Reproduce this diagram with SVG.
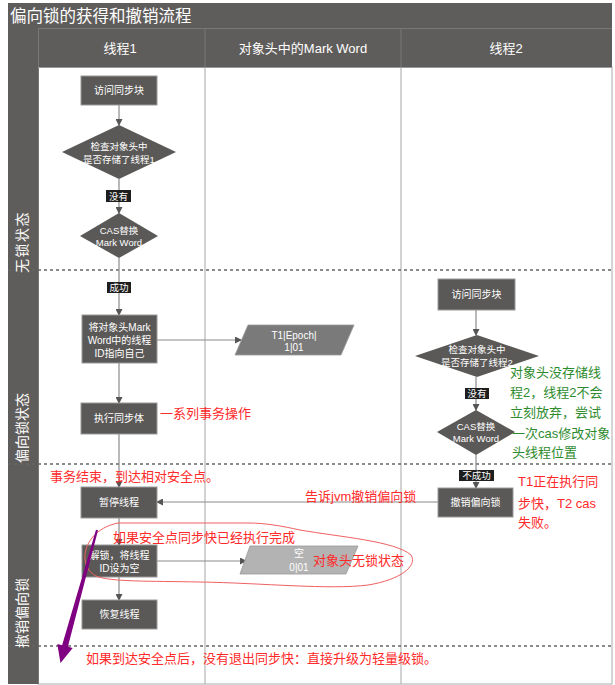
<svg xmlns="http://www.w3.org/2000/svg" width="615" height="685" viewBox="0 0 615 685">
<style>
text{font-family:"Liberation Sans","Noto Sans CJK SC",sans-serif;dominant-baseline:central}
.hd{fill:#fff;font-size:13px;text-anchor:middle}
.nt{fill:#fff;font-size:10px;text-anchor:middle}
.dt{fill:#fff;font-size:9.5px;text-anchor:middle}
.lt{fill:#fff;font-size:9.5px;text-anchor:middle}
.box{fill:#5b5957;stroke:#9a9a9a;stroke-width:1}
.dia{fill:#5b5957}
.lbl{fill:#1e1e1e}
.ln{stroke:#8a8a8a;stroke-width:1.2;fill:none}
.dash{stroke:#666;stroke-width:1.6;stroke-dasharray:3,3}
.red{fill:#ff2a2a;font-size:13px}
.grn{fill:#2e8b2e;font-size:13px}
.lane{fill:#fff;font-size:14px}
</style>
<defs>
<marker id="ah" markerWidth="7" markerHeight="7" refX="6" refY="3.5" orient="auto" markerUnits="userSpaceOnUse">
<path d="M0,0 L7,3.5 L0,7 Z" fill="#555"/>
</marker>
</defs>
<rect x="0" y="0" width="615" height="685" fill="#fff"/>
<g id="frame">
<rect x="38" y="67" width="574" height="617" fill="#fff" stroke="#aaa"/>
<rect x="8" y="3" width="604" height="25" fill="#5f5d5b"/>
<rect x="8" y="28" width="30" height="656" fill="#5f5d5b"/>
<rect x="38" y="28" width="574" height="39" fill="#5f5d5b"/>
<line x1="38" y1="28.5" x2="612" y2="28.5" stroke="#7a7876"/>
<line x1="38.5" y1="28" x2="38.5" y2="684" stroke="#7a7876"/>
<line x1="205" y1="28" x2="205" y2="67" stroke="#7a7876"/>
<line x1="401" y1="28" x2="401" y2="67" stroke="#7a7876"/>
<line x1="205" y1="67" x2="205" y2="684" stroke="#b5b5b5" stroke-width="1.2"/>
<line x1="401" y1="67" x2="401" y2="684" stroke="#b5b5b5" stroke-width="1.2"/>
<line x1="38" y1="67.5" x2="612" y2="67.5" stroke="#999"/>
<text x="10" y="16" fill="#fff" font-size="16.5">偏向锁的获得和撤销流程</text>
<text class="hd" x="120" y="48">线程1</text>
<text class="hd" x="303" y="48">对象头中的Mark Word</text>
<text class="hd" x="506" y="48">线程2</text>
<line class="dash" x1="8" y1="270" x2="612" y2="270"/>
<line class="dash" x1="8" y1="464" x2="612" y2="464"/>
<line class="dash" x1="8" y1="646" x2="612" y2="646"/>
<text class="lane" transform="translate(22,273) rotate(-90)" letter-spacing="1.5">无锁状态</text>
<text class="lane" transform="translate(22,463) rotate(-90)">偏向锁状态</text>
<text class="lane" transform="translate(22,648) rotate(-90)">撤销偏向锁</text>
</g>
<g id="connectors">
<line class="ln" x1="119" y1="105" x2="119" y2="125" marker-end="url(#ah)"/>
<line class="ln" x1="119" y1="179" x2="119" y2="190"/>
<line class="ln" x1="119" y1="202" x2="119" y2="213" marker-end="url(#ah)"/>
<line class="ln" x1="119" y1="258" x2="119" y2="282"/>
<line class="ln" x1="119" y1="293" x2="119" y2="315" marker-end="url(#ah)"/>
<line class="ln" x1="157" y1="340" x2="241" y2="340" marker-end="url(#ah)"/>
<line class="ln" x1="119" y1="363" x2="119" y2="403" marker-end="url(#ah)"/>
<line class="ln" x1="119" y1="434" x2="119" y2="487" marker-end="url(#ah)"/>
<line class="ln" x1="119" y1="518" x2="119" y2="545" marker-end="url(#ah)"/>
<line class="ln" x1="157" y1="561" x2="246" y2="561" marker-end="url(#ah)"/>
<line class="ln" x1="119" y1="577" x2="119" y2="600" marker-end="url(#ah)"/>
<line class="ln" x1="438" y1="502" x2="157" y2="502" marker-end="url(#ah)"/>
<line class="ln" x1="476" y1="310" x2="476" y2="335" marker-end="url(#ah)"/>
<line class="ln" x1="476" y1="377" x2="476" y2="388"/>
<line class="ln" x1="476" y1="399" x2="476" y2="410" marker-end="url(#ah)"/>
<line class="ln" x1="476" y1="455" x2="476" y2="470"/>
<line class="ln" x1="476" y1="481" x2="476" y2="488" marker-end="url(#ah)"/>
</g>
<g id="t1-access"><rect class="box" x="81" y="76" width="76" height="29"/><text class="nt" x="119" y="90.5">访问同步块</text></g>
<g id="t1-check"><polygon class="dia" points="119,125 176,152 119,179 62,152"/><text class="dt" x="119" y="146">检查对象头中</text><text class="dt" x="119" y="159">是否存储了线程1</text></g>
<g id="t1-no"><rect class="lbl" x="106" y="190" width="25" height="12"/><text class="lt" x="118.5" y="196">没有</text></g>
<g id="t1-cas"><polygon class="dia" points="119,213 158,236 119,258 80,236"/><text class="dt" x="119" y="230">CAS替换</text><text class="dt" x="119" y="242">Mark Word</text></g>
<g id="t1-ok"><rect class="lbl" x="107" y="282" width="24" height="11"/><text class="lt" x="119" y="287.5">成功</text></g>
<g id="t1-set"><rect class="box" x="82" y="315" width="75" height="48"/><text class="nt" x="119.5" y="327">将对象头Mark</text><text class="nt" x="119.5" y="340">Word中的线程</text><text class="nt" x="119.5" y="353">ID指向自己</text></g>
<g id="t1-exec"><rect class="box" x="81" y="403" width="76" height="31"/><text class="nt" x="119" y="418.5">执行同步体</text></g>
<g id="t1-pause"><rect class="box" x="81" y="487" width="76" height="31"/><text class="nt" x="119" y="502.5">暂停线程</text></g>
<g id="t1-unlock"><rect class="box" x="82" y="545" width="75" height="32"/><text class="nt" x="119.5" y="555">解锁，将线程</text><text class="nt" x="119.5" y="568">ID设为空</text></g>
<g id="t1-resume"><rect class="box" x="82" y="600" width="75" height="29"/><text class="nt" x="119.5" y="614.5">恢复线程</text></g>
<g id="mw-biased"><polygon points="248,325 354,325 341,355 235,355" fill="#7a7a7a" stroke="#9a9a9a" stroke-width="0.8"/><text class="nt" x="294" y="335">T1|Epoch|</text><text class="nt" x="294" y="347">1|01</text></g>
<g id="mw-free"><polygon points="250,546 358,546 346,574 240,574" fill="#b3b3b3" stroke="#999" stroke-width="0.8"/><text class="nt" x="299" y="553">空</text><text class="nt" x="299" y="567">0|01</text></g>
<g id="t2-access"><rect class="box" x="438" y="279" width="77" height="31"/><text class="nt" x="476.5" y="294.5">访问同步块</text></g>
<g id="t2-check"><polygon class="dia" points="477,335 539,356 477,377 415,356"/><text class="dt" x="477" y="349">检查对象头中</text><text class="dt" x="477" y="362">是否存储了线程2</text></g>
<g id="t2-no"><rect class="lbl" x="465" y="388" width="24" height="11"/><text class="lt" x="477" y="393.5">没有</text></g>
<g id="t2-cas"><polygon class="dia" points="476,410 515,432 476,455 437,432"/><text class="dt" x="476" y="426">CAS替换</text><text class="dt" x="476" y="438">Mark Word</text></g>
<g id="t2-fail"><rect class="lbl" x="459" y="470" width="35" height="11"/><text class="lt" x="476.5" y="475.5">不成功</text></g>
<g id="t2-revoke"><rect class="box" x="438" y="488" width="75" height="29"/><text class="nt" x="475.5" y="502.5">撤销偏向锁</text></g>
<g id="annotations">
<text class="red" x="160" y="413">一系列事务操作</text>
<text class="red" x="50" y="476">事务结束，到达相对安全点。</text>
<text class="red" x="305" y="496">告诉jvm撤销偏向锁</text>
<text class="red" x="518" y="481" font-size="14">T1正在执行同</text>
<text class="red" x="518" y="503" font-size="14">步快，T2 cas</text>
<text class="red" x="518" y="522" font-size="14">失败。</text>
<text class="grn" x="510" y="372">对象头没存储线</text>
<text class="grn" x="510" y="392">程2，线程2不会</text>
<text class="grn" x="510" y="412">立刻放弃，尝试</text>
<text class="grn" x="512" y="433">一次cas修改对象</text>
<text class="grn" x="512" y="452">头线程位置</text>
<text class="red" x="113" y="537">如果安全点同步快已经执行完成</text>
<text class="red" x="313" y="560">对象头无锁状态</text>
<text class="red" x="86" y="658">如果到达安全点后，没有退出同步快：直接升级为轻量级锁。</text>
<path d="M118,523 L248,523 C265,523 282,526 300,530 C340,537 395,541 411,555 C418,566 400,580 368,585 C330,590 262,583 200,582 C150,581 110,582 96,576 C82,569 82,550 92,538 C98,530 108,525 118,523 Z" fill="none" stroke="#f06060" stroke-width="1"/>
<polygon points="96,529.7 98,530.3 67.9,646.8 72.7,648.1 60.5,663 57.3,643.9 62.1,645.2" fill="#7f0080"/>
</g>
</svg>
